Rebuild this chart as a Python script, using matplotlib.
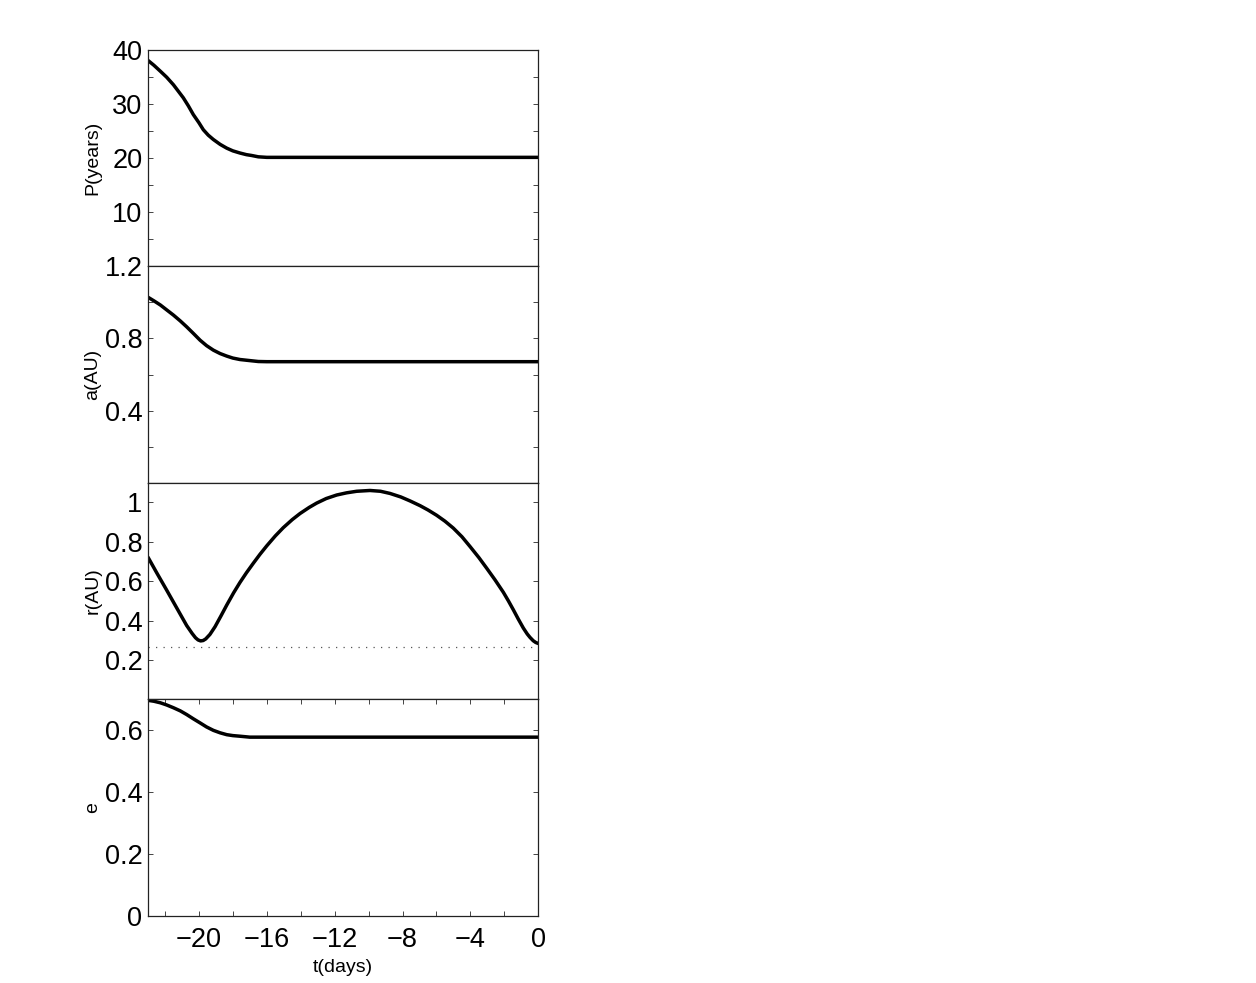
import numpy as np
import matplotlib.pyplot as plt

plt.rcParams['font.family'] = ['Liberation Sans', 'DejaVu Sans']

# values, t in days before the end of the run
t_P = [-23.0, -22.65, -22.27, -21.9, -21.5, -20.92, -20.62, -20.33, -20.0, -19.74, -19.45,
       -19.15, -18.75, -18.36, -18.0, -17.58, -17.2, -16.9, -16.5, -16.0, 0.0]
P_years = [38.0, 37.1, 36.0, 34.9, 33.5, 31.1, 29.6, 28.0, 26.5, 25.2, 24.2,
           23.4, 22.5, 21.8, 21.3, 20.9, 20.6, 20.45, 20.2, 20.1, 20.1]

t_a = [-23.0, -22.65, -22.27, -21.9, -21.5, -21.1, -20.72, -20.32, -19.93, -19.55, -19.15,
       -18.75, -18.36, -18.0, -17.58, -16.9, -16.5, -16.0, 0.0]
a_AU = [1.028, 1.008, 0.985, 0.958, 0.929, 0.897, 0.864, 0.827, 0.79, 0.76, 0.735,
        0.716, 0.702, 0.691, 0.683, 0.676, 0.672, 0.671, 0.671]

t_r = [-23.0, -22.5, -21.9, -21.33, -20.72, -20.4, -20.2, -20.05, -19.9, -19.75, -19.6,
       -19.35, -19.05, -18.7, -18.36, -17.95, -17.58, -17.2, -16.79, -16.4, -16.0, -15.5,
       -15.03, -14.5, -14.04, -13.5, -13.06, -12.5, -11.88, -11.3, -10.7, -9.92, -9.3,
       -8.74, -8.1, -7.56, -6.97, -6.5, -5.99, -5.5, -5.01, -4.5, -4.02, -3.5, -3.04,
       -2.55, -2.06, -1.76, -1.47, -1.18, -0.88, -0.65, -0.49, -0.3, -0.15, 0.0]
r_AU = [0.722, 0.645, 0.555, 0.468, 0.375, 0.335, 0.313, 0.302, 0.297, 0.299, 0.307,
        0.33, 0.369, 0.424, 0.479, 0.542, 0.594, 0.643, 0.692, 0.737, 0.78, 0.83,
        0.872, 0.913, 0.944, 0.975, 0.997, 1.02, 1.038, 1.049, 1.057, 1.061, 1.057,
        1.046, 1.028, 1.008, 0.984, 0.962, 0.935, 0.905, 0.87, 0.826, 0.776, 0.72, 0.666,
        0.607, 0.544, 0.5, 0.455, 0.408, 0.362, 0.332, 0.315, 0.298, 0.289, 0.284]
r_limit = 0.267

t_e = [-23.0, -22.65, -22.27, -21.9, -21.5, -21.1, -20.72, -20.32, -19.93, -19.55, -19.15,
       -18.75, -18.36, -18.0, -17.58, -17.0, 0.0]
e_vals = [0.697, 0.694, 0.689, 0.682, 0.673, 0.663, 0.651, 0.637, 0.624, 0.611, 0.600,
          0.592, 0.586, 0.583, 0.581, 0.578, 0.578]

x_ticks = [-20, -16, -12, -8, -4, 0]
x_tick_labels = ['\u221220', '\u221216', '\u221212', '\u22128', '\u22124', '0']

panels = [
    # (t, y, ylabel, ylim, labelled ticks, labels, minor ticks)
    (t_P, P_years, 'P(years)', (0, 40), [10, 20, 30, 40], ['10', '20', '30', '40'], [5, 15, 25, 35]),
    (t_a, a_AU, 'a(AU)', (0, 1.2), [0.4, 0.8, 1.2], ['0.4', '0.8', '1.2'], [0.2, 0.6, 1.0]),
    (t_r, r_AU, 'r(AU)', (0, 1.1), [0.2, 0.4, 0.6, 0.8, 1.0], ['0.2', '0.4', '0.6', '0.8', '1'], []),
    (t_e, e_vals, 'e', (0, 0.7), [0, 0.2, 0.4, 0.6], ['0', '0.2', '0.4', '0.6'], []),
]

fig = plt.figure(figsize=(12.56, 9.83), dpi=100)
left = 148 / 1256
width = 390.3 / 1256
height = 216.6 / 983
bottom = 1 - 916 / 983

for i, (t, y, label, ylim, ticks, labels, minor) in enumerate(panels):
    ax = fig.add_axes([left, bottom + (3 - i) * height, width, height])
    ax.plot(t, y, color='k', lw=2.5, solid_joinstyle='round', solid_capstyle='round')
    if label == 'r(AU)':
        ax.axhline(r_limit, color='#555555', lw=0.9, ls=(0, (1, 5)))
    ax.set_xlim(-23, 0)
    ax.set_ylim(*ylim)
    ax.set_yticks(ticks)
    ax.set_yticklabels(labels)
    ax.set_yticks(minor, minor=True)
    ax.set_ylabel(label, fontsize=14)
    ax.yaxis.set_label_coords(-0.12, 0.5)
    for s in ax.spines.values():
        s.set_linewidth(0.9)
        s.set_color('#222222')
    ax.tick_params(which='both', direction='in', length=3.6, width=0.7,
                   color='#444444', right=True, labelsize=19.5, pad=4)
    if i == 3:
        ax.set_xticks(x_ticks)
        ax.set_xticklabels(x_tick_labels)
        ax.set_xticks(np.arange(-22, 0, 2), minor=True)
        ax.tick_params(axis='x', which='both', top=True, pad=8)
        ax.set_xlabel('t(days)', fontsize=14, labelpad=4)
    else:
        ax.set_xticks([])

fig.savefig('out.png', dpi=100)
